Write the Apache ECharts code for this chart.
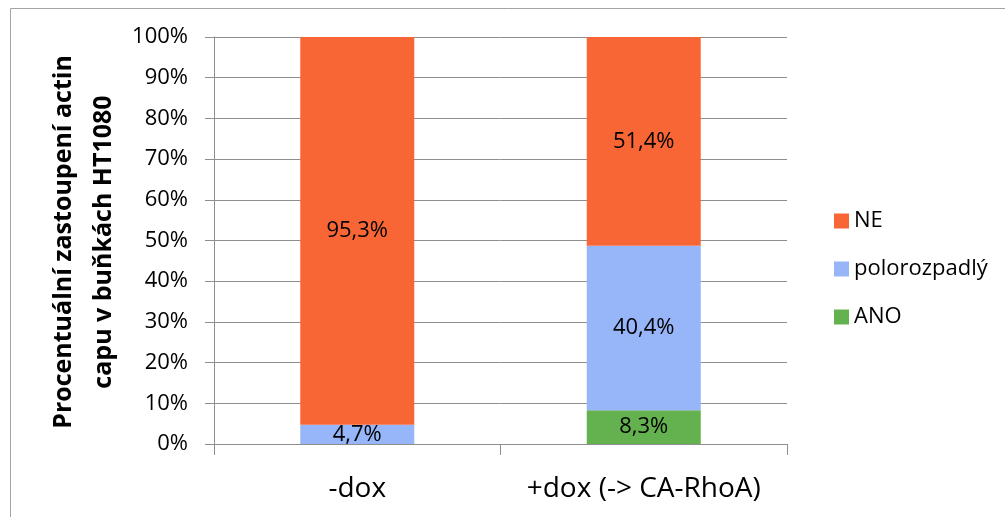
<!DOCTYPE html>
<html>
<head>
<meta charset="utf-8">
<script src="https://cdn.jsdelivr.net/npm/echarts@6/dist/echarts.min.js"></script>
<style>
  html, body { margin: 0; padding: 0; background: #fff; }
  #chart { width: 1005px; height: 517px; }
</style>
</head>
<body>
<div id="chart"></div>
<script>
// Categories and shares (%) of actin cap states in HT1080 cells
const categories = ['-dox', '+dox (-> CA-RhoA)'];
const anoValues = [null, 8.3];
const polorozpadlyValues = [4.7, 40.4];
const neValues = [95.3, 51.4];
const yTicks = [0, 10, 20, 30, 40, 50, 60, 70, 80, 90, 100];

const FONT = '"Open Sans", "DejaVu Sans", sans-serif';
const GRID_GRAY = '#8e8e8e';

function pctLabel(p) {
  if (p.value == null) return '';
  return p.value.toFixed(1).replace('.', ',') + '%';
}

function barSeries(name, data, color) {
  return {
    name: name,
    type: 'bar',
    stack: 'total',
    data: data,
    barWidth: 114,
    itemStyle: { color: color },
    label: {
      show: true,
      position: 'inside',
      formatter: pctLabel,
      color: '#000',
      fontFamily: FONT,
      fontSize: 22
    },
    emphasis: { disabled: true }
  };
}

const chart = echarts.init(document.getElementById('chart'), null, { renderer: 'canvas' });

chart.setOption({
  animation: false,
  backgroundColor: '#fff',
  grid: { left: 214, right: 218, top: 37, bottom: 73 },
  legend: {
    orient: 'vertical',
    left: 829,
    top: 205,
    data: ['NE', 'polorozpadlý', 'ANO'],
    icon: 'rect',
    itemWidth: 15,
    itemHeight: 15,
    itemGap: 26,
    textStyle: { fontFamily: FONT, fontSize: 22, color: '#000' },
    selectedMode: false
  },
  xAxis: {
    type: 'category',
    data: categories,
    axisLine: { lineStyle: { color: GRID_GRAY, width: 1 } },
    axisTick: { show: true, length: 11, lineStyle: { color: GRID_GRAY } },
    axisLabel: { fontFamily: FONT, fontSize: 28, color: '#000', margin: 31, interval: 0 }
  },
  yAxis: {
    type: 'value',
    min: yTicks[0],
    max: yTicks[yTicks.length - 1],
    interval: 10,
    axisLine: { show: true, lineStyle: { color: GRID_GRAY, width: 1 } },
    axisTick: { show: true, length: 9, lineStyle: { color: GRID_GRAY } },
    splitLine: { show: true, lineStyle: { color: GRID_GRAY, width: 1 } },
    axisLabel: {
      fontFamily: FONT, fontSize: 22, color: '#000', margin: 26,
      formatter: '{value}%'
    }
  },
  graphic: [
    {
      type: 'rect',
      silent: true,
      shape: { x: 10.5, y: 8.5, width: 1010, height: 530 },
      style: { fill: null, stroke: '#a3a3a3', lineWidth: 1 }
    },
    {
      type: 'text',
      silent: true,
      x: 84,
      y: 242,
      rotation: Math.PI / 2,
      style: {
        text: 'Procentuální zastoupení actin\ncapu v buňkách HT1080',
        font: 'bold 25px ' + FONT,
        fill: '#000',
        align: 'center',
        verticalAlign: 'middle',
        lineHeight: 40
      }
    }
  ],
  series: [
    barSeries('ANO', anoValues, '#64b24f'),
    barSeries('polorozpadlý', polorozpadlyValues, '#97b5f9'),
    barSeries('NE', neValues, '#f96636')
  ]
});
</script>
</body>
</html>
